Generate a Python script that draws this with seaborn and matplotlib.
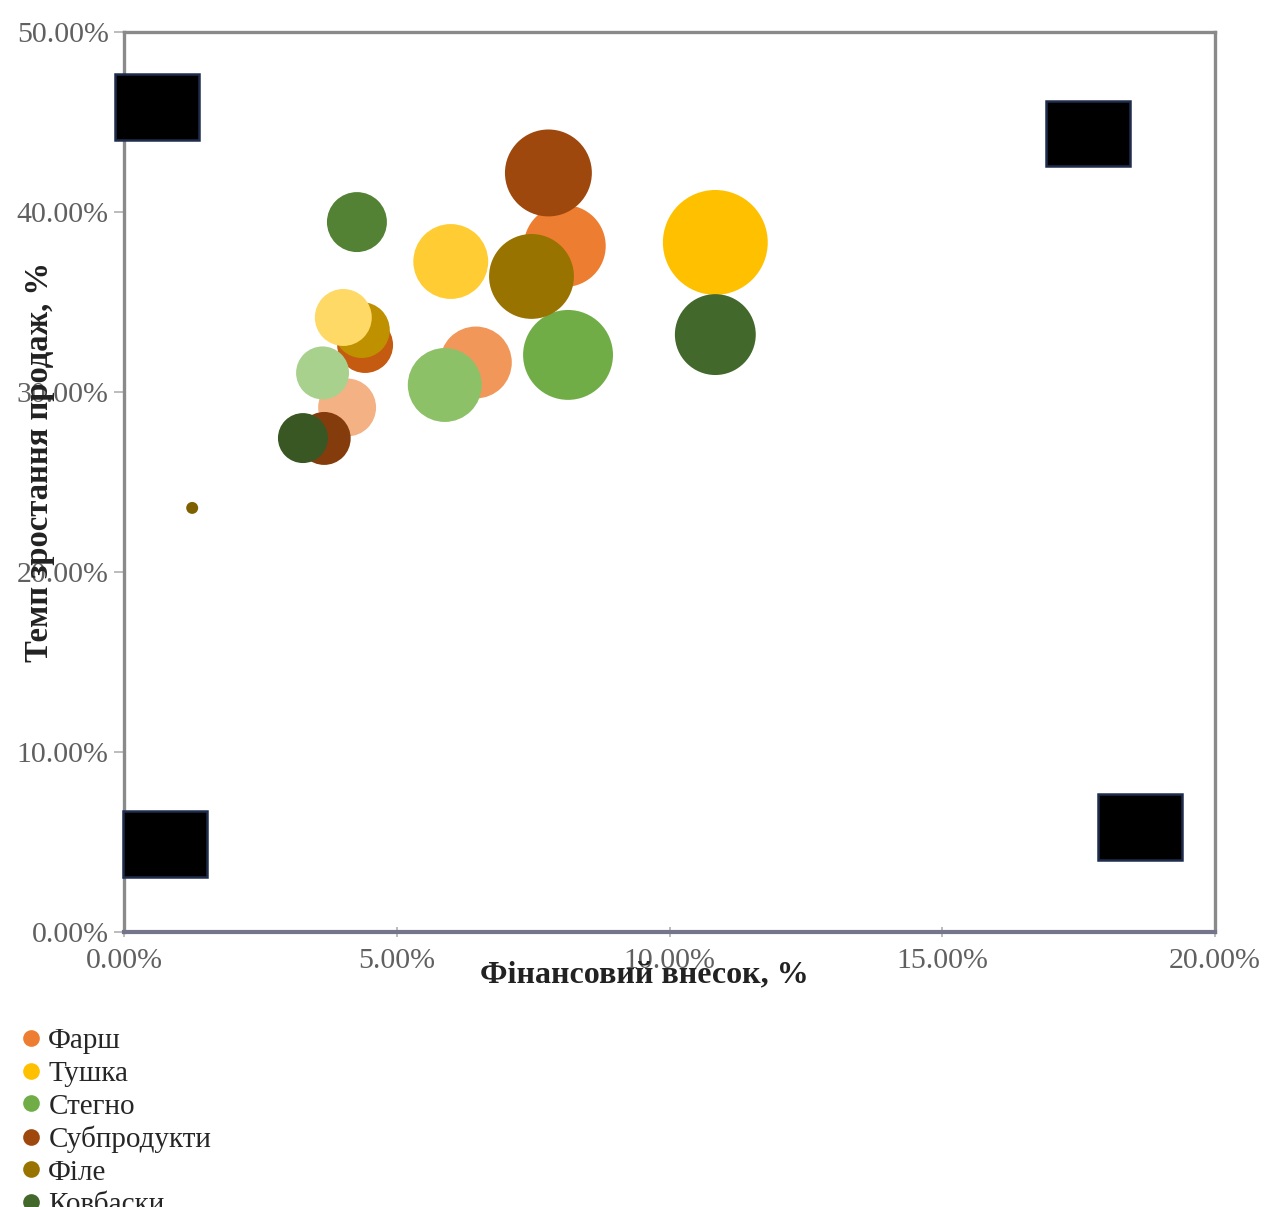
import matplotlib
matplotlib.use("Agg")
import matplotlib.pyplot as plt
from matplotlib.lines import Line2D
from matplotlib.patches import Rectangle
from matplotlib.ticker import FuncFormatter, MultipleLocator
import pandas as pd
import seaborn as sns

# Legend entries shown under the chart
legend_names = ["Фарш", "Тушка", "Стегно", "Субпродукти", "Філе", "Ковбаски"]

# Bubble series (18 series, drawn in order)
series_ids = [f"S{i + 1}" for i in range(18)]
fin_share = [8.08, 10.84, 8.14, 7.78, 7.47, 10.84, 6.45, 5.99, 5.88,
             4.42, 4.36, 4.27, 4.09, 4.02, 3.64, 3.67, 1.25, 3.28]
growth = [38.11, 38.31, 32.06, 42.17, 36.42, 33.19, 31.64, 37.25, 30.39,
          32.61, 33.44, 39.44, 29.14, 34.14, 31.06, 27.42, 23.56, 27.44]
bubble = [61.0, 100.0, 73.5, 68.7, 65.5, 59.5, 47.0, 51.0, 49.7,
          28.4, 28.4, 32.7, 30.5, 29.5, 25.5, 25.5, 1.3, 22.7]
colors = ["#ED7D31", "#FFC000", "#70AD47", "#9E480E", "#997300", "#43682B",
          "#F1975A", "#FFCD33", "#8CC168", "#C55A11", "#BF9000", "#548235",
          "#F4B183", "#FFD966", "#A9D18E", "#843C0C", "#7F6000", "#385723"]

df = pd.DataFrame({"series": series_ids, "x": fin_share, "y": growth, "b": bubble})

sns.set_theme(style="white")
plt.rcParams["font.family"] = ["Liberation Serif", "DejaVu Serif"]

W, H = 1269, 1207
fig = plt.figure(figsize=(W / 100, H / 100), dpi=100)
fig.patch.set_facecolor("white")

L, R, T, B = 124, 1215, 32, 932
ax = fig.add_axes([L / W, 1 - B / H, (R - L) / W, (B - T) / H])
ax.set_facecolor("white")

max_area = 5700  # points^2 for the largest bubble
sns.scatterplot(data=df, x="x", y="y", hue="series",
                palette=dict(zip(series_ids, colors)),
                size="b", sizes=(0, max_area), size_norm=(0, 100),
                marker="o", linewidth=0, alpha=1.0, legend=False, ax=ax,
                zorder=3)

ax.set_xlim(0, 20)
ax.set_ylim(0, 50)
ax.xaxis.set_major_locator(MultipleLocator(5))
ax.yaxis.set_major_locator(MultipleLocator(10))
pct = FuncFormatter(lambda v, _: f"{v:.2f}%")
ax.xaxis.set_major_formatter(pct)
ax.yaxis.set_major_formatter(pct)

tick_color = "#606060"
ax.tick_params(axis="both", which="major", labelsize=21.5, labelcolor=tick_color,
               color="#b0b0b0", length=7, width=1.2)
ax.tick_params(axis="x", direction="inout", pad=8)
ax.tick_params(axis="y", direction="out", pad=4)
ax.tick_params(left=True, bottom=True)

for side in ["top", "right", "left"]:
    ax.spines[side].set_color("#8a8a8a")
    ax.spines[side].set_linewidth(2.4)
ax.spines["bottom"].set_color("#74748a")
ax.spines["bottom"].set_linewidth(3.0)

ax.set_xlabel("Фінансовий внесок, %", fontsize=23, fontweight="bold", color="#222222")
ax.set_ylabel("Темп зростання продаж, %", fontsize=23.5, fontweight="bold", color="#222222")
ax.xaxis.set_label_coords((644 - L) / (R - L), -(975 - B) / (B - T))
ax.xaxis.label.set_va("center")
ax.yaxis.set_label_coords(-(124 - 40) / (R - L), (B - 462) / (B - T))
ax.yaxis.label.set_va("center")

# Black boxes in the plot corners
boxes = [(115, 74, 84, 66), (1046, 101, 84, 65), (123, 811, 84, 66), (1098, 794, 84, 66)]
for bx, by, bw, bh in boxes:
    fig.add_artist(Rectangle((bx / W, 1 - (by + bh) / H), bw / W, bh / H,
                             transform=fig.transFigure, facecolor="black",
                             edgecolor="#1f2d4d", linewidth=1.8, zorder=10))

# Legend below the plot (runs past the bottom edge of the figure)
handles = [Line2D([], [], marker="o", linestyle="none", markersize=12,
                  markerfacecolor=c, markeredgewidth=0)
           for c in colors[:len(legend_names)]]
fig.legend(handles, legend_names, loc="upper left",
           bbox_to_anchor=(22 / W, 1 - 1028 / H), frameon=False,
           fontsize=21, labelspacing=0.21, handlelength=0.6,
           handletextpad=0.3, borderaxespad=0, borderpad=0)

fig.savefig("out.png", dpi=100, facecolor="white")
